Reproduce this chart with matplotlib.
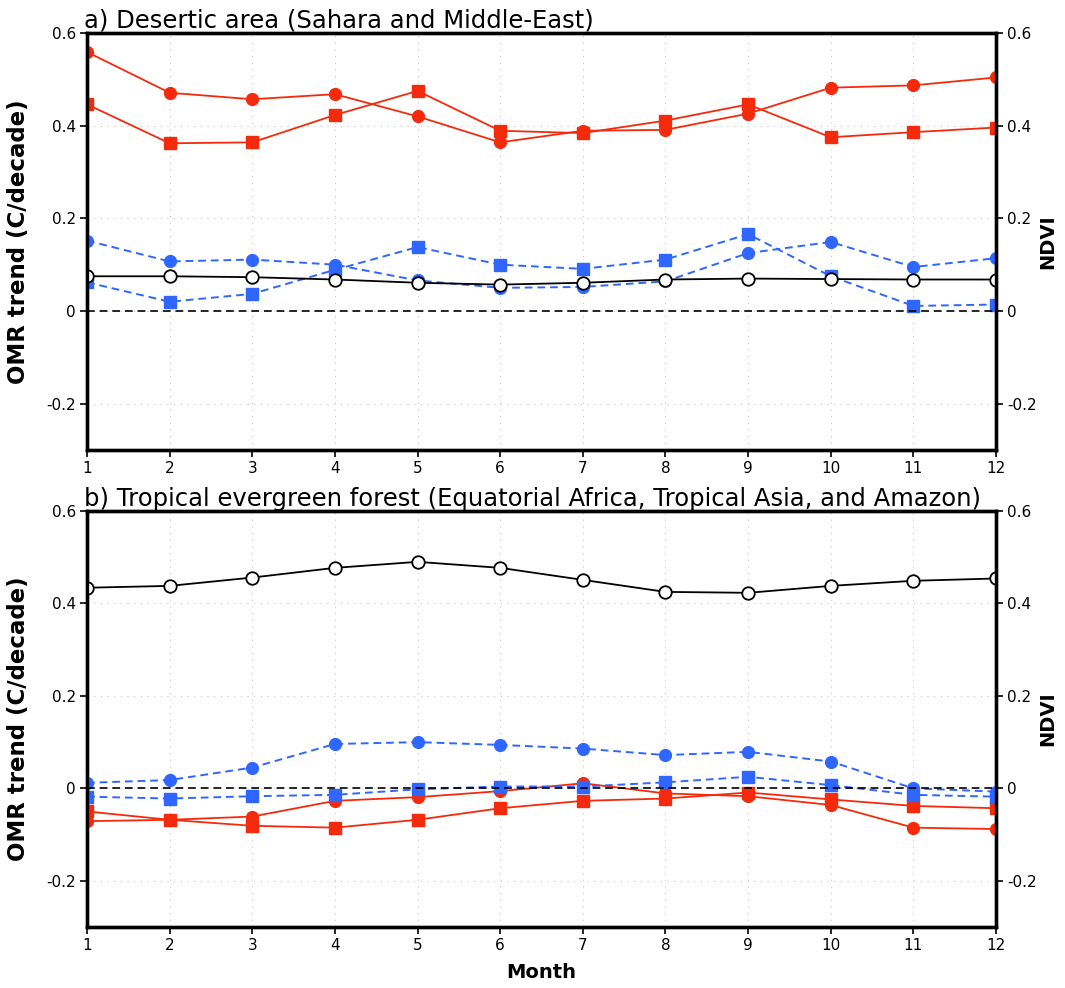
import matplotlib
matplotlib.use("Agg")
import matplotlib.pyplot as plt

# ===================== DATA =====================
months = list(range(1, 13))

# a) Desertic area
a_red_circ = [0.559, 0.471, 0.457, 0.468, 0.420, 0.364, 0.389, 0.391, 0.426, 0.482, 0.487, 0.504]
a_red_sq = [0.446, 0.362, 0.364, 0.423, 0.475, 0.389, 0.384, 0.411, 0.446, 0.375, 0.386, 0.396]
a_blue_circ = [0.152, 0.107, 0.111, 0.100, 0.066, 0.050, 0.052, 0.064, 0.125, 0.149, 0.095, 0.114]
a_blue_sq = [0.062, 0.020, 0.037, 0.089, 0.138, 0.100, 0.091, 0.111, 0.166, 0.075, 0.011, 0.014]
a_ndvi = [0.075, 0.075, 0.073, 0.068, 0.061, 0.057, 0.061, 0.068, 0.070, 0.069, 0.068, 0.068]

# b) Tropical evergreen forest
b_red_circ = [-0.071, -0.068, -0.061, -0.027, -0.019, -0.006, 0.011, -0.011, -0.017, -0.036, -0.085, -0.088]
b_red_sq = [-0.050, -0.068, -0.081, -0.085, -0.068, -0.043, -0.027, -0.022, -0.009, -0.024, -0.038, -0.043]
b_blue_circ = [0.012, 0.018, 0.045, 0.096, 0.100, 0.094, 0.086, 0.072, 0.079, 0.058, 0.000, -0.007]
b_blue_sq = [-0.018, -0.022, -0.017, -0.014, -0.002, 0.004, 0.004, 0.013, 0.025, 0.007, -0.014, -0.018]
b_ndvi = [0.434, 0.438, 0.456, 0.477, 0.490, 0.477, 0.451, 0.425, 0.423, 0.438, 0.449, 0.454]

titles = [
    "a) Desertic area (Sahara and Middle-East)",
    "b) Tropical evergreen forest (Equatorial Africa, Tropical Asia, and Amazon)",
]
yticks = [-0.2, 0, 0.2, 0.4, 0.6]
yticklabels = ["-0.2", "0", "0.2", "0.4", "0.6"]

# ===================== STYLE =====================
RED = "#F52A0C"
BLUE = "#2F66FF"

fig = plt.figure(figsize=(10.65, 9.88), dpi=100)

panels = [
    (a_red_circ, a_red_sq, a_blue_circ, a_blue_sq, a_ndvi),
    (b_red_circ, b_red_sq, b_blue_circ, b_blue_sq, b_ndvi),
]
rects = [
    [0.0817, 0.5445, 0.8535, 0.4221],
    [0.0817, 0.0617, 0.8535, 0.4211],
]

for i, (rc, rs, bc, bs, nd) in enumerate(panels):
    ax = fig.add_axes(rects[i])

    ax.plot(months, rc, color=RED, lw=1.3, marker="o", ms=8.5, mec=RED, zorder=3)
    ax.plot(months, rs, color=RED, lw=1.3, marker="s", ms=8, mec=RED, zorder=4)
    ax.plot(months, bc, color=BLUE, lw=1.4, ls=(0, (4, 2.5)), marker="o", ms=8.5, mec=BLUE, zorder=5)
    ax.plot(months, bs, color=BLUE, lw=1.4, ls=(0, (4, 2.5)), marker="s", ms=8, mec=BLUE, zorder=6)
    ax.plot(months, nd, color="black", lw=1.3, marker="o", ms=9, mfc="white", mec="black",
            mew=1.3, zorder=7)
    ax.axhline(0, color="black", lw=1.4, ls=(0, (4, 2.5)), zorder=8, alpha=0.85)

    ax.set_xlim(1, 12)
    ax.set_ylim(-0.3, 0.6)
    ax.set_xticks(months)
    ax.set_yticks(yticks)
    ax.set_yticklabels(yticklabels)
    ax.grid(True, color="#c8c8c8", lw=0.8, ls=(0, (1, 5)))

    for sp in ax.spines.values():
        sp.set_linewidth(2.4)
    ax.tick_params(direction="out", length=5, width=1.2, labelsize=11, pad=3)

    ax.set_ylabel("OMR trend (C/decade)", fontsize=16.5, fontweight="bold")
    ax.yaxis.set_label_coords(-0.0627, 0.5)

    ax2 = ax.twinx()
    ax2.set_ylim(-0.3, 0.6)
    ax2.set_yticks(yticks)
    ax2.set_yticklabels(yticklabels)
    ax2.tick_params(direction="out", length=5, width=1.2, labelsize=11, pad=3)
    for sp in ax2.spines.values():
        sp.set_linewidth(2.4)
    ax2.set_ylabel("NDVI", fontsize=14, fontweight="bold")
    ax2.yaxis.set_label_coords(1.047, 0.5)

    ax.set_title(titles[i], loc="left", fontsize=17.5, pad=3, x=-0.003)

    if i == 1:
        ax.set_xlabel("Month", fontsize=14, fontweight="bold")
        ax.xaxis.set_label_coords(0.5, -0.0865)

fig.savefig("out.png", dpi=100)
